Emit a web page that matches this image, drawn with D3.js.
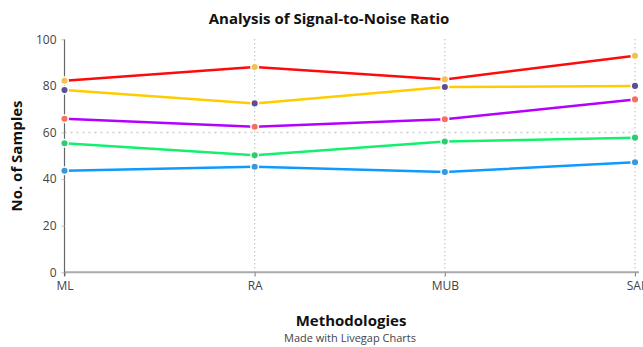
<!DOCTYPE html>
<html><head><meta charset="utf-8">
<script src="https://cdn.jsdelivr.net/npm/d3@7"></script>
<style>body{margin:0;background:#fff;}svg{display:block;font-family:"Open Sans",sans-serif;}</style>
</head><body><div id="c"></div>
<script>
const categories = ["ML","RA","MUB","SAI"];
const seriesA = [82.2, 88.1, 82.8, 92.9];
const seriesB = [78.2, 72.5, 79.5, 80.0];
const seriesC = [65.9, 62.5, 65.7, 74.2];
const seriesD = [55.4, 50.2, 56.1, 57.8];
const seriesE = [43.6, 45.3, 43.0, 47.2];
const yTicks = [0,20,40,60,80,100];
const lineColors = ["#ff0a0a","#ffcc00","#b400ff","#12f06e","#0f9aff"];
const pointColors = ["#f4c04e","#5d4f91","#fa6e5e","#2dcc70","#3a97dc"];
const series = [seriesA, seriesB, seriesC, seriesD, seriesE];

const W=643,H=347;
const svg=d3.select("#c").append("svg").attr("width",W).attr("height",H);
const x=d3.scalePoint().domain(categories).range([64.5,635]);
const y=d3.scaleLinear().domain([0,100]).range([272.3,39.3]);

// vertical dotted grid
svg.append("g").selectAll("line").data(categories.slice(1)).join("line")
  .attr("x1",d=>x(d)).attr("x2",d=>x(d)).attr("y1",y(100)).attr("y2",y(0)+4)
  .attr("stroke","#999").attr("stroke-width",1).attr("stroke-dasharray","1,3");
// horizontal dotted grid at 60
svg.append("line").attr("x1",x("ML")).attr("x2",x("SAI")).attr("y1",y(60)).attr("y2",y(60))
  .attr("stroke","#ccc").attr("stroke-width",1.5).attr("stroke-dasharray","2,4");

// x axis
const xa=svg.append("g").attr("transform",`translate(0,${y(0)})`)
  .call(d3.axisBottom(x).tickSize(4).tickPadding(5));
xa.select(".domain").attr("stroke","#aaa").attr("stroke-width",2).attr("d",`M${x("ML")},0H${x("SAI")+4}`);
xa.selectAll(".tick line").attr("stroke","#888");
xa.selectAll("text").attr("font-size",12).attr("fill","#444").attr("font-family","Open Sans");

// y axis
const ya=svg.append("g").attr("transform",`translate(${x("ML")},0)`)
  .call(d3.axisLeft(y).tickValues(yTicks).tickSize(3).tickPadding(5));
ya.select(".domain").attr("stroke","#666").attr("stroke-width",1.2).attr("d",`M0,${y(100)}V${y(0)+4}`);
ya.selectAll(".tick line").attr("stroke","#bbb");
ya.selectAll("text").attr("font-size",12).attr("fill","#444").attr("font-family","Open Sans");

const line=d3.line().x((d,i)=>x(categories[i])).y(d=>y(d));
series.forEach((s,k)=>{
  svg.append("path").datum(s).attr("d",line).attr("fill","none")
    .attr("stroke",lineColors[k]).attr("stroke-width",2.5);
});
series.forEach((s,k)=>{
  svg.append("g").selectAll("circle").data(s).join("circle")
    .attr("cx",(d,i)=>x(categories[i])).attr("cy",d=>y(d)).attr("r",3.8)
    .attr("fill",pointColors[k]).attr("stroke","#fff").attr("stroke-width",1.5);
});

svg.append("text").attr("x",329).attr("y",24).attr("text-anchor","middle")
  .attr("font-size",15).attr("font-weight","bold").attr("fill","#111").text("Analysis of Signal-to-Noise Ratio");
svg.append("text").attr("transform","translate(22,156) rotate(-90)").attr("text-anchor","middle")
  .attr("font-size",15).attr("font-weight","bold").attr("fill","#111").text("No. of Samples");
svg.append("text").attr("x",351).attr("y",326).attr("text-anchor","middle")
  .attr("font-size",15).attr("font-weight","bold").attr("fill","#111").text("Methodologies");
svg.append("text").attr("x",350).attr("y",342).attr("text-anchor","middle")
  .attr("font-size",11).attr("fill","#444").text("Made with Livegap Charts");
</script></body></html>
